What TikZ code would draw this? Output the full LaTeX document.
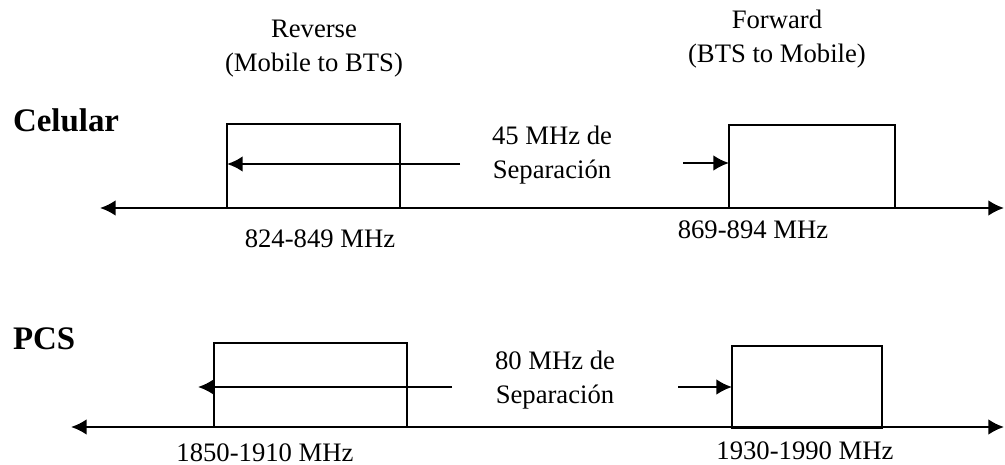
\documentclass[tikz,border=0pt]{standalone}
\usepackage{fontspec}
\setmainfont{Liberation Serif}
\usetikzlibrary{arrows.meta}

\tikzset{
	band/.style={draw, line width=1pt, inner sep=0pt, outer sep=0pt},
	lbl/.style={font=\fontsize{12}{15}\selectfont, inner sep=0pt, anchor=base, align=center},
	sys/.style={font=\fontsize{14.8}{17}\selectfont\bfseries, inner sep=0pt, anchor=base west}
}

\begin{document}
\begin{tikzpicture}[x=0.45pt,y=-0.45pt,line width=1pt,>={Latex[length=7pt,width=7pt]}]
		\useasboundingbox (0,0) rectangle (1005,464);
		%\draw[help lines] (0,0) grid (1005,464);
		% titles (base = last line)
		\node[lbl] (rev) at (314,71) {Reverse\\(Mobile to BTS)};
		\node[lbl] (fwd) at (777,62) {Forward\\(BTS to Mobile)};
		\node[sys] (cel) at (12,131) {Celular};
		\node[sys] (pcs) at (12,349) {PCS};
		% bands
		\node[band, minimum width=77.7pt, minimum height=37.8pt] (rc) at (313.4,166) {};
		\node[band, minimum width=74.7pt, minimum height=37.4pt] (fc) at (812,166.5) {};
		\node[band, minimum width=86.9pt, minimum height=37.8pt] (rp) at (310.3,385) {};
		\node[band, minimum width=67.5pt, minimum height=36.9pt] (fp) at (807,387) {};
		% axes
		\coordinate (cl) at (100,208);
		\coordinate (cr) at (1004,208);
		\coordinate (pl) at (71,427);
		\coordinate (pr) at (1004,427);
		\draw[<->] (cl) -- (cr);
		\draw[<->] (pl) -- (pr);
		% separation arrows
		\coordinate (sc) at (460,164);
		\coordinate (tc) at (683,163);
		\coordinate (sp) at (452,387);
		\coordinate (tp) at (198,387);
		\coordinate (up) at (678,387);
		\draw[->] (sc) -- (rc.west |- sc);
		\draw[->] (tc) -- (fc.west |- tc);
		\draw[->] (sp) -- (tp);
		\draw[->] (up) -- (fp.west |- up);
		\node[lbl] (sepc) at (552,178) {45 MHz de\\Separación};
		\node[lbl] (sepp) at (555,403) {80 MHz de\\Separación};
		% frequencies
		\node[lbl] (frc) at (320,247) {824-849 MHz};
		\node[lbl] (ffc) at (753,238) {869-894 MHz};
		\node[lbl] (frp) at (265,461) {1850-1910 MHz};
		\node[lbl] (ffp) at (805,459) {1930-1990 MHz};
\end{tikzpicture}
\end{document}
